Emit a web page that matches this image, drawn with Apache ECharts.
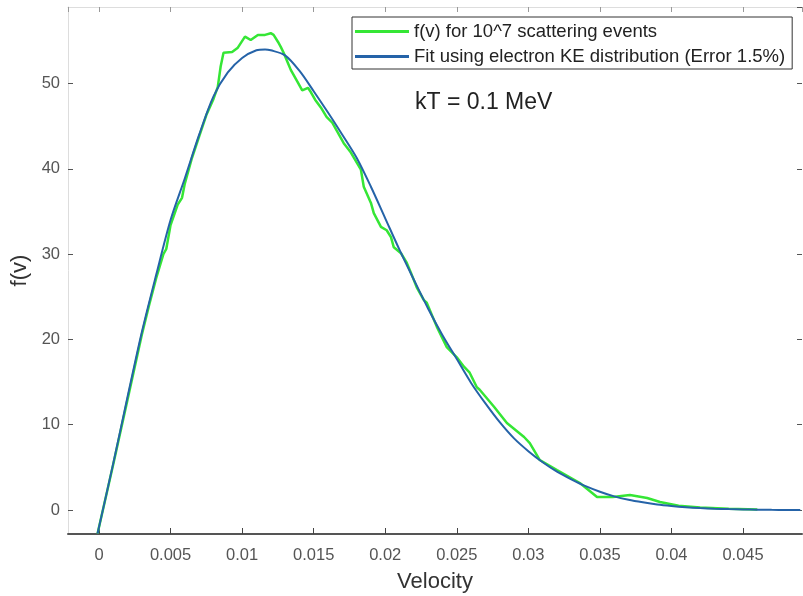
<!DOCTYPE html>
<html>
<head>
<meta charset="utf-8">
<script src="https://cdn.jsdelivr.net/npm/echarts@6/dist/echarts.min.js"></script>
<style>html,body{margin:0;padding:0;background:#fff;}#c{width:803px;height:596px;}</style>
</head>
<body>
<div id="c"></div>
<script>
// Simulated histogram f(v) (green)
const greenV = [-0.0001, 0.001, 0.002, 0.003, 0.0035, 0.004, 0.0045, 0.0047, 0.005, 0.0055, 0.0058, 0.006, 0.0065, 0.007, 0.0075, 0.008, 0.0083, 0.0085, 0.0087, 0.0093, 0.0097, 0.0102, 0.0106, 0.0111, 0.0116, 0.012, 0.0122, 0.0125, 0.0127, 0.0129, 0.0132, 0.0134, 0.0139, 0.0142, 0.0146, 0.0148, 0.0151, 0.0155, 0.0159, 0.0163, 0.0171, 0.0176, 0.0183, 0.0185, 0.019, 0.0192, 0.0197, 0.0201, 0.0204, 0.0206, 0.0211, 0.0215, 0.0218, 0.0222, 0.0227, 0.0229, 0.0236, 0.0243, 0.025, 0.0255, 0.0259, 0.0264, 0.0266, 0.0276, 0.0285, 0.0297, 0.0301, 0.0308, 0.032, 0.0336, 0.0348, 0.0359, 0.0371, 0.0383, 0.0392, 0.0405, 0.042, 0.044, 0.046];
const greenF = [-2.75, 5.4, 13.0, 20.6, 24.0, 27.2, 30.0, 30.6, 33.4, 35.8, 36.6, 38.3, 41.3, 43.8, 46.3, 48.2, 49.6, 52.0, 53.6, 53.7, 54.2, 55.5, 55.1, 55.7, 55.7, 55.9, 55.7, 54.9, 54.3, 53.6, 52.4, 51.6, 50.1, 49.2, 49.5, 49.0, 48.1, 47.2, 46.1, 45.4, 43.0, 41.9, 39.9, 37.9, 36.0, 34.8, 33.2, 32.8, 32.0, 30.8, 30.1, 29.0, 27.8, 26.1, 24.6, 24.3, 21.5, 19.1, 17.9, 16.8, 16.1, 14.4, 14.1, 12.1, 10.2, 8.56, 7.85, 5.86, 4.69, 3.17, 1.52, 1.52, 1.76, 1.41, 0.94, 0.5, 0.3, 0.15, 0.05];

// Fit curve (blue)
const fitV = [-0.0001, 0.001, 0.002, 0.003, 0.004, 0.005, 0.006, 0.007, 0.008, 0.009, 0.010, 0.011, 0.0116, 0.012, 0.013, 0.014, 0.015, 0.016, 0.017, 0.018, 0.019, 0.020, 0.021, 0.022, 0.023, 0.024, 0.025, 0.026, 0.027, 0.028, 0.029, 0.030, 0.031, 0.032, 0.033, 0.034, 0.035, 0.036, 0.037, 0.038, 0.039, 0.040, 0.041, 0.042, 0.043, 0.044, 0.045, 0.046, 0.047, 0.048, 0.049];
const fitF = [-2.75, 5.5, 13.3, 20.9, 27.6, 34.0, 38.9, 44.0, 48.5, 51.3, 53.0, 53.9, 54.0, 53.9, 53.3, 51.5, 49.1, 46.6, 44.0, 41.3, 37.9, 34.2, 30.5, 27.0, 23.6, 20.5, 17.7, 14.9, 12.5, 10.3, 8.4, 6.9, 5.6, 4.5, 3.6, 2.8, 2.15, 1.6, 1.2, 0.9, 0.65, 0.47, 0.33, 0.23, 0.16, 0.11, 0.07, 0.04, 0.02, 0.01, 0.0];

const seriesNames = ['f(v) for 10^7 scattering events', 'Fit using electron KE distribution (Error 1.5%)'];
const xName = 'Velocity';
const yName = 'f(v)';
const annotation = 'kT = 0.1 MeV';

const X_MIN = -0.002166, X_MAX = 0.04912;
const Y_MIN = -2.81, Y_MAX = 58.97;

const FONT = 'Liberation Sans, Arial, sans-serif';
const GREEN = '#35e635', BLUE = '#2563a8';
const chart = echarts.init(document.getElementById('c'), null, {renderer: 'canvas'});

const zip = (a, b) => a.map((v, i) => [v, b[i]]);

chart.setOption({
  animation: false,
  textStyle: {fontFamily: FONT},
  grid: {left: 68, top: 7, right: 1, bottom: 62, containLabel: false, outerBoundsMode: 'none'},
  legend: {
    orient: 'vertical',
    left: 352, top: 17,
    padding: [5, 7, 3, 3],
    itemGap: 6,
    itemWidth: 54,
    itemHeight: 3,
    backgroundColor: '#fff',
    borderColor: '#333',
    borderWidth: 1,
    textStyle: {fontSize: 18.5, color: '#222', fontFamily: FONT},
    data: [{name: seriesNames[0], icon: 'rect'}, {name: seriesNames[1], icon: 'rect'}]
  },
  xAxis: [{
    type: 'value', position: 'bottom', min: X_MIN, max: X_MAX, splitNumber: 10,
    axisLine: {onZero: false, lineStyle: {color: '#555', width: 2}},
    axisTick: {inside: true, length: 6, lineStyle: {color: '#444'}},
    axisLabel: {fontSize: 16.5, color: '#555', margin: 13, showMinLabel: false, showMaxLabel: false, fontFamily: FONT},
    splitLine: {show: false},
    name: xName, nameLocation: 'middle', nameGap: 37, nameMoveOverlap: false,
    nameTextStyle: {fontSize: 22, color: '#333', fontFamily: FONT}
  }, {
    type: 'value', position: 'top', min: X_MIN, max: X_MAX, splitNumber: 10,
    axisLine: {show: true, onZero: false, lineStyle: {color: '#ddd', width: 1}},
    axisTick: {inside: true, length: 5, lineStyle: {color: '#999'}},
    axisLabel: {show: false},
    splitLine: {show: false}
  }],
  yAxis: [{
    type: 'value', position: 'left', min: Y_MIN, max: Y_MAX, splitNumber: 6,
    axisLine: {show: true, onZero: false, lineStyle: {color: '#ddd', width: 1}},
    axisTick: {show: true, inside: true, length: 5, lineStyle: {color: '#555'}},
    axisLabel: {fontSize: 16.5, color: '#555', margin: 8, showMinLabel: false, showMaxLabel: false, fontFamily: FONT},
    splitLine: {show: false},
    name: yName, nameLocation: 'middle', nameGap: 37, nameMoveOverlap: false,
    nameTextStyle: {fontSize: 22, color: '#333', fontFamily: FONT}
  }, {
    type: 'value', position: 'right', min: Y_MIN, max: Y_MAX, splitNumber: 6,
    axisLine: {show: false, onZero: false},
    axisTick: {show: true, inside: true, length: 5, lineStyle: {color: '#555'}},
    axisLabel: {show: false},
    splitLine: {show: false}
  }],
  graphic: [{
    type: 'text', left: 415, top: 91,
    style: {text: annotation, font: '23px ' + FONT, fill: '#222'}
  }],
  series: [{
    name: seriesNames[0], type: 'line', xAxisIndex: 0, yAxisIndex: 0,
    data: zip(greenV, greenF), showSymbol: false, symbol: 'none',
    lineStyle: {color: GREEN, width: 2.5}, itemStyle: {color: GREEN}, z: 2
  }, {
    name: seriesNames[1], type: 'line', xAxisIndex: 0, yAxisIndex: 0,
    data: zip(fitV, fitF), showSymbol: false, symbol: 'none', smooth: 0.3,
    lineStyle: {color: BLUE, width: 2}, itemStyle: {color: BLUE}, z: 3
  }]
});
</script>
</body>
</html>
